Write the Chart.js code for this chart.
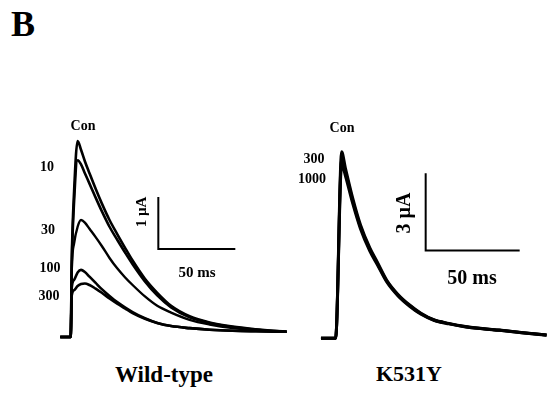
<!DOCTYPE html>
<html>
<head>
<meta charset="utf-8">
<script src="https://cdn.jsdelivr.net/npm/chart.js@4.4.1/dist/chart.umd.min.js"></script>
<style>
  body { margin: 0; background: #fff; }
  #wrap { position: relative; width: 550px; height: 397px; overflow: hidden; background: #fff; }
  canvas { position: absolute; }
  #wtChart { left: 50px; top: 120px; }
  #mutChart { left: 315px; top: 120px; }
  .lbl {
    position: absolute;
    font-family: "Liberation Serif", "DejaVu Serif", serif;
    font-weight: bold;
    color: #000;
    white-space: nowrap;
    transform: translate(-50%, -50%);
    line-height: 1;
  }
  .rot { transform: translate(-50%, -50%) rotate(-90deg); }
</style>
</head>
<body>
<div id="wrap">
  <canvas id="wtChart" width="250" height="230"></canvas>
  <canvas id="mutChart" width="235" height="230"></canvas>

  <div class="lbl" style="left:23px; top:24px; font-size:36px;">B</div>

  <div class="lbl" style="left:83px; top:126px; font-size:14px;">Con</div>
  <div class="lbl" style="left:47px; top:167px; font-size:14px;">10</div>
  <div class="lbl" style="left:48px; top:230px; font-size:14px;">30</div>
  <div class="lbl" style="left:50px; top:268px; font-size:14px;">100</div>
  <div class="lbl" style="left:49px; top:296px; font-size:14px;">300</div>
  <div class="lbl rot" style="left:141px; top:212px; font-size:15px;">1 µA</div>
  <div class="lbl" style="left:197px; top:272px; font-size:15px;">50 ms</div>

  <div class="lbl" style="left:342px; top:128px; font-size:14px;">Con</div>
  <div class="lbl" style="left:314px; top:159px; font-size:14px;">300</div>
  <div class="lbl" style="left:312px; top:179px; font-size:14px;">1000</div>
  <div class="lbl rot" style="left:403px; top:213px; font-size:20px;">3 µA</div>
  <div class="lbl" style="left:472px; top:277px; font-size:20px;">50 ms</div>

  <div class="lbl" style="left:164px; top:374px; font-size:23px;">Wild-type</div>
  <div class="lbl" style="left:409px; top:374px; font-size:22px;">K531Y</div>
</div>

<script>
// wild-type: time (ms) and current (µA) for each concentration
const wtTime = [-7, -0.2, 0.5, 2, 4.3, 6.5, 9, 12, 16, 20, 25, 30, 35, 40, 48, 56, 65, 77, 90, 105, 120, 140];
const wtCon  = [0, 0, 1.5, 2.8, 3.77, 3.6, 3.38, 3.15, 2.85, 2.57, 2.25, 1.98, 1.72, 1.47, 1.12, 0.85, 0.6, 0.4, 0.28, 0.2, 0.15, 0.1];
const wt10   = [0, 0, 1.4, 2.6, 3.4, 3.32, 3.15, 2.95, 2.68, 2.42, 2.12, 1.87, 1.63, 1.4, 1.07, 0.8, 0.57, 0.38, 0.27, 0.19, 0.14, 0.1];
const wt30   = [0, 0, 1.3, 1.8, 2.12, 2.25, 2.2, 2.08, 1.92, 1.75, 1.52, 1.32, 1.15, 1.0, 0.78, 0.6, 0.47, 0.33, 0.24, 0.17, 0.13, 0.1];
const wt100  = [0, 0, 0.95, 1.1, 1.24, 1.29, 1.25, 1.16, 1.04, 0.92, 0.79, 0.67, 0.57, 0.48, 0.36, 0.27, 0.21, 0.17, 0.14, 0.12, 0.11, 0.1];
const wt300  = [0, 0, 0.8, 0.9, 0.98, 1.02, 1.03, 1.0, 0.93, 0.85, 0.74, 0.64, 0.55, 0.46, 0.35, 0.27, 0.21, 0.17, 0.14, 0.12, 0.11, 0.1];
// scale bar: 1 µA / 50 ms
const wtBarX = [56.7, 56.7, 106.7];
const wtBarY = [2.69, 1.69, 1.69];

// K531Y
const mutTime = [-8, -0.2, 3, 5, 9, 13, 18, 22, 27, 33, 39, 45, 52, 60, 69, 78, 87, 100, 112];
const mutCon  = [0, 0, 7.23, 6.6, 5.4, 4.4, 3.5, 2.95, 2.25, 1.7, 1.3, 0.98, 0.72, 0.58, 0.46, 0.38, 0.32, 0.22, 0.13];
const mut300  = [0, 0, 6.95, 6.45, 5.3, 4.33, 3.45, 2.9, 2.22, 1.67, 1.28, 0.96, 0.71, 0.57, 0.45, 0.37, 0.31, 0.21, 0.13];
const mut1000 = [0, 0, 6.75, 6.3, 5.2, 4.25, 3.38, 2.85, 2.18, 1.64, 1.25, 0.94, 0.7, 0.56, 0.44, 0.37, 0.31, 0.21, 0.12];
// scale bar: 3 µA / 50 ms
const mutBarX = [47.7, 47.7, 97.7];
const mutBarY = [6.4, 3.4, 3.4];

function toPoints(xs, ys) {
  return xs.map((x, i) => ({ x: x, y: ys[i] }));
}

function trace(xs, ys, width) {
  return {
    data: toPoints(xs, ys),
    borderColor: "#000",
    borderWidth: width,
    pointRadius: 0,
    cubicInterpolationMode: "monotone",
    clip: false,
  };
}

function bar(xs, ys) {
  return {
    data: toPoints(xs, ys),
    borderColor: "#000",
    borderWidth: 2,
    pointRadius: 0,
    tension: 0,
    clip: false,
  };
}

function panelOptions(xMin, xMax, yMin, yMax) {
  return {
    responsive: false,
    animation: false,
    devicePixelRatio: 1,
    layout: { padding: 0 },
    plugins: { legend: { display: false }, tooltip: { enabled: false } },
    scales: {
      x: { type: "linear", min: xMin, max: xMax, display: false },
      y: { type: "linear", min: yMin, max: yMax, display: false },
    },
  };
}

new Chart(document.getElementById("wtChart"), {
  type: "line",
  data: {
    datasets: [
      trace(wtTime, wtCon, 2.6),
      trace(wtTime, wt10, 2.6),
      trace(wtTime, wt30, 2.4),
      trace(wtTime, wt100, 2.6),
      trace(wtTime, wt300, 2.6),
      bar(wtBarX, wtBarY),
    ],
  },
  options: panelOptions(-13.64, 148.7, -0.25, 4.173),
});

new Chart(document.getElementById("mutChart"), {
  type: "line",
  data: {
    datasets: [
      trace(mutTime, mutCon, 3),
      trace(mutTime, mut300, 3),
      trace(mutTime, mut1000, 3),
      bar(mutBarX, mutBarY),
    ],
  },
  options: panelOptions(-11.17, 113.83, -0.453, 8.46),
});
</script>
</body>
</html>
